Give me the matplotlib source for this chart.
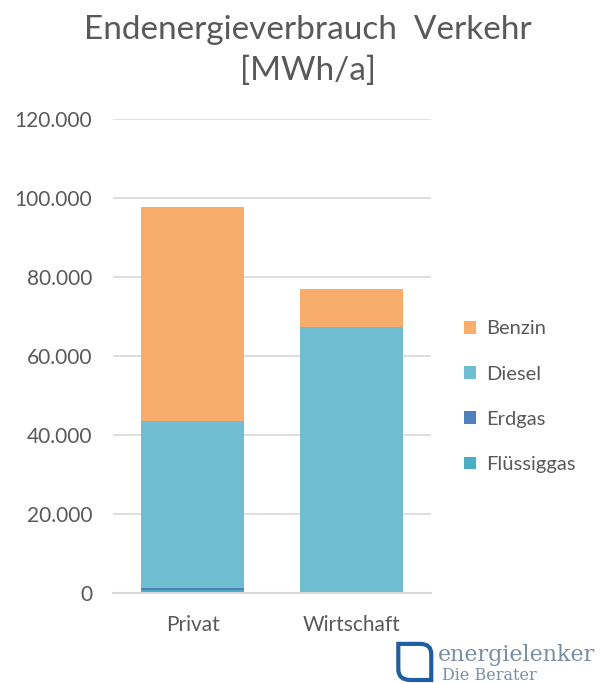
import matplotlib.pyplot as plt
import numpy as np
from matplotlib.patches import PathPatch
from matplotlib.path import Path
from matplotlib.ticker import FuncFormatter

categories = ['Privat', 'Wirtschaft']
fluessiggas = [700, 0]
erdgas = [600, 0]
diesel = [42200, 67300]
benzin = [54200, 9700]

colors = {'Flüssiggas': '#4bacc6', 'Erdgas': '#4f81bd',
          'Diesel': '#70bcd1', 'Benzin': '#f9ad6c'}
grey = '#595959'

plt.rcParams['font.family'] = ['Lato', 'DejaVu Sans']

fig = plt.figure(figsize=(6.02, 6.84), dpi=100)
ax = fig.add_axes([0.1877, 0.133, 0.5283, 0.693])

x = np.arange(len(categories))
w = 0.65
bottom = np.zeros(len(categories))
bars = {}
for name, vals in [('Flüssiggas', fluessiggas), ('Erdgas', erdgas),
                   ('Diesel', diesel), ('Benzin', benzin)]:
    bars[name] = ax.bar(x, vals, w, bottom=bottom, color=colors[name],
                        label=name, zorder=3)
    bottom += np.array(vals)

ax.set_xlim(-0.5, 1.5)
ax.set_ylim(0, 120000)
ax.set_yticks(np.arange(0, 120001, 20000))
ax.yaxis.set_major_formatter(FuncFormatter(lambda v, p: f'{int(v):,}'.replace(',', '.')))
ax.grid(axis='y', color='#d9d9d9', linewidth=1.2, zorder=0)
for s in ['top', 'right', 'left']:
    ax.spines[s].set_visible(False)
ax.spines['bottom'].set_color('#d9d9d9')
ax.spines['bottom'].set_linewidth(1.5)
ax.spines['bottom'].set_zorder(4)
ax.tick_params(length=0, labelsize=15, colors=grey, pad=15)
ax.set_xticks(x)
ax.set_xticklabels(categories)
ax.tick_params(axis='x', pad=16)

fig.text(0.512, 0.956, 'Endenergieverbrauch  Verkehr', ha='center', va='center',
         fontsize=24, color=grey)
fig.text(0.512, 0.897, '[MWh/a]', ha='center', va='center', fontsize=24, color=grey)

handles = [bars[n] for n in ['Benzin', 'Diesel', 'Erdgas', 'Flüssiggas']]
fig.legend(handles, ['Benzin', 'Diesel', 'Erdgas', 'Flüssiggas'],
           loc='center left', bbox_to_anchor=(0.74, 0.42),
           frameon=False, fontsize=14.5, labelcolor=grey, handlelength=0.6,
           handleheight=0.6, handletextpad=0.5, labelspacing=1.4)

# logo
lx = fig.add_axes([0.655, 0.0, 0.345, 0.066])
lx.set_xlim(0, 208)
lx.set_ylim(0, 45)
lx.axis('off')
verts = [(4, 40), (26, 40), (37, 40), (37, 30), (37, 4), (16, 4), (4, 4), (4, 15), (4, 40)]
codes = [Path.MOVETO, Path.LINETO, Path.CURVE3, Path.CURVE3, Path.LINETO,
         Path.LINETO, Path.CURVE3, Path.CURVE3, Path.CLOSEPOLY]
lx.add_patch(PathPatch(Path(verts, codes), facecolor='none', edgecolor='#1f5fa0', lw=3))
lx.text(44, 29, 'energielenker', fontsize=16, family='DejaVu Serif', color='#7a8fa3',
        va='center')
lx.text(48, 8, 'Die Berater', fontsize=11.5, family='DejaVu Serif', color='#7a8fa3',
        va='center')

fig.savefig('out.png', dpi=100)
